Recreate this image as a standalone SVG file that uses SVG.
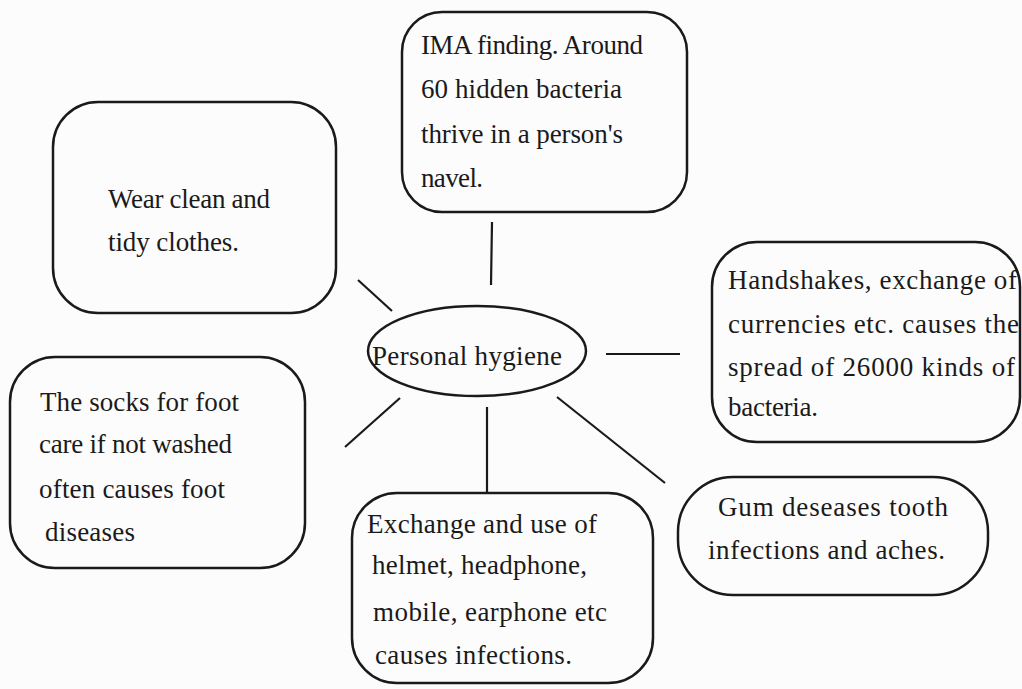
<svg xmlns="http://www.w3.org/2000/svg" width="1022" height="689" viewBox="0 0 1022 689">
<style>
.box{fill:none;stroke:#1a1a1a;stroke-width:2.5}
.ln{stroke:#1a1a1a;stroke-width:2.2;fill:none}
text{font-family:"Liberation Serif","Times New Roman",serif;font-size:27px;fill:#1a1a1a}
</style>
<rect width="1022" height="689" fill="#fcfcfc"/>
<g id="connectors">
<line class="ln" x1="492" y1="222" x2="491" y2="285"/>
<line class="ln" x1="358" y1="280" x2="392" y2="311"/>
<line class="ln" x1="606" y1="354" x2="680" y2="354"/>
<line class="ln" x1="400" y1="398" x2="345" y2="447"/>
<line class="ln" x1="487" y1="407" x2="487" y2="493"/>
<line class="ln" x1="557" y1="397" x2="665" y2="483"/>
</g>
<g id="center">
<ellipse class="box" cx="477" cy="351" rx="109" ry="45"/>
<text x="372" y="365" textLength="190">Personal hygiene</text>
</g>
<g id="ima">
<rect class="box" x="402" y="12" width="285" height="200" rx="40"/>
<text x="421" y="54" textLength="222">IMA finding. Around</text>
<text x="421" y="98" textLength="201">60 hidden bacteria</text>
<text x="421" y="143" textLength="202">thrive in a person's</text>
<text x="421" y="187" textLength="62">navel.</text>
</g>
<g id="wear">
<rect class="box" x="53" y="102" width="283" height="211" rx="45"/>
<text x="108" y="208" textLength="162">Wear clean and</text>
<text x="108" y="251" textLength="131">tidy clothes.</text>
</g>
<g id="handshakes">
<rect class="box" x="712" y="242" width="308" height="200" rx="45"/>
<text x="728" y="289" textLength="289">Handshakes, exchange of</text>
<text x="728" y="333" textLength="291">currencies etc. causes the</text>
<text x="728" y="376" textLength="287">spread of 26000 kinds of</text>
<text x="728" y="416" textLength="90">bacteria.</text>
</g>
<g id="socks">
<rect class="box" x="10" y="357" width="295" height="211" rx="45"/>
<text x="40" y="411" textLength="199">The socks for foot</text>
<text x="39" y="453" textLength="193">care if not washed</text>
<text x="39" y="498" textLength="186">often causes foot</text>
<text x="45" y="541" textLength="90">diseases</text>
</g>
<g id="exchange">
<rect class="box" x="352" y="493" width="301" height="190" rx="45"/>
<text x="367" y="533" textLength="230">Exchange and use of</text>
<text x="372" y="574" textLength="215">helmet, headphone,</text>
<text x="373" y="621" textLength="234">mobile, earphone etc</text>
<text x="375" y="664" textLength="197">causes infections.</text>
</g>
<g id="gum">
<rect class="box" x="678" y="477" width="310" height="118" rx="55"/>
<text x="718" y="516" textLength="230">Gum deseases tooth</text>
<text x="708" y="559" textLength="237">infections and aches.</text>
</g>
</svg>
